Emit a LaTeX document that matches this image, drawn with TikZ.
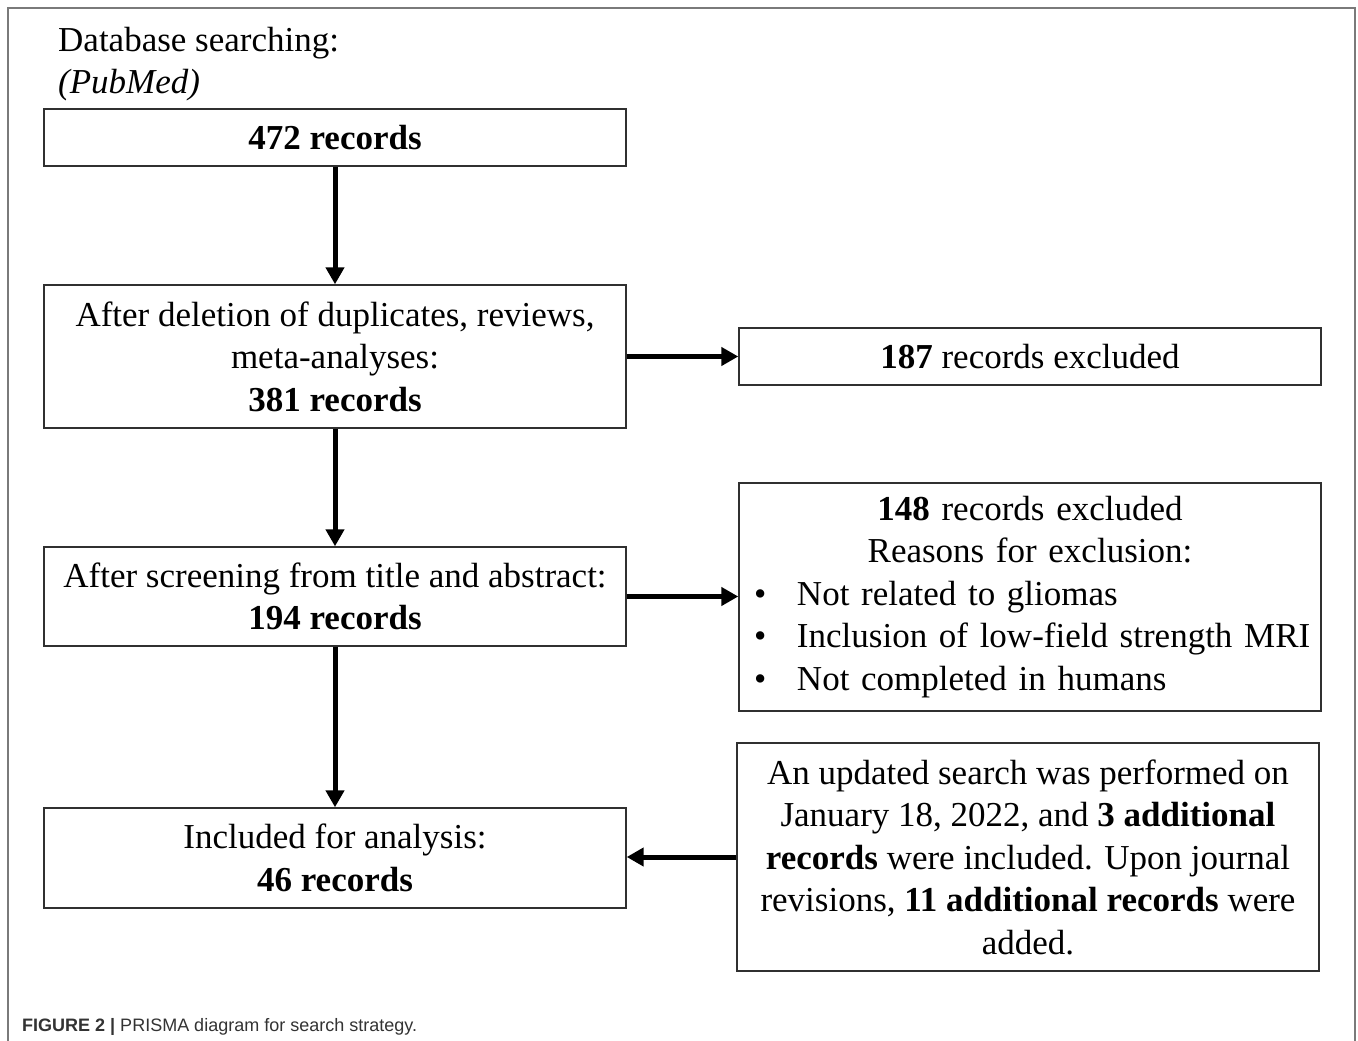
\documentclass[tikz,border=0pt]{standalone}
\usepackage{fontspec}
\setmainfont{Liberation Serif}
\newfontfamily\capfont{Liberation Sans}
\usetikzlibrary{arrows.meta}
\definecolor{framegray}{HTML}{7A7A7A}
\definecolor{boxgray}{HTML}{303030}
\definecolor{capgray}{HTML}{333333}
\begin{document}
\begin{tikzpicture}[x=1pt,y=-1pt,
  every node/.style={font=\fontsize{35}{42.5}\selectfont, inner sep=0pt},
  flowbox/.style={draw=boxgray, line width=1.4pt, rectangle, minimum width=582pt, align=center},
  flowarrow/.style={line width=5pt, -{Triangle[length=17pt,width=18pt]}}]
\useasboundingbox (0,0) rectangle (1358,1041);
\fill[white] (0,0) rectangle (1358,1041);
% outer frame
\draw[framegray, line width=2pt] (8,1050) -- (8,8.5) -- (1355,8.5) -- (1355,1050);
% title
\node[anchor=base west] (t1) at (58,52) {Database searching:};
\node[anchor=base west] (t2) at (58,93) {\itshape (PubMed)};
% left column
\node[flowbox, minimum height=57pt] (b1) at (335,137.5) {\textbf{472 records}};
\node[flowbox, minimum height=143pt] (b2) at (335,356.5) {After deletion of duplicates, reviews,\\ meta-analyses:\\ \textbf{381 records}};
\node[flowbox, minimum height=99pt] (b3) at (335,596.5) {After screening from title and abstract:\\ \textbf{194 records}};
\node[flowbox, minimum height=100pt] (b4) at (335,858) {Included for analysis:\\ \textbf{46 records}};
% right column
\node[flowbox, minimum height=57pt] (r1) at (1030,356.5) {\textbf{187} records excluded};
\node[flowbox, minimum height=228pt, text width=582pt, align=left] (r2) at (1030,597) {%
\makebox[582pt][c]{\textbf{148} records excluded}\\
\makebox[582pt][c]{Reasons for exclusion:}\\
\hspace*{15pt}\makebox[43pt][l]{•}Not related to gliomas\\
\hspace*{15pt}\makebox[43pt][l]{•}Inclusion of low-field strength MRI\\
\hspace*{15pt}\makebox[43pt][l]{•}Not completed in humans};
\node[flowbox, minimum height=228pt] (r3) at (1028,857) {An updated search was performed on\\ January 18, 2022, and \textbf{3 additional}\\ \textbf{records} were included. Upon journal\\ revisions, \textbf{11 additional records} were\\ added.};
% arrows
\draw[flowarrow] (b1.south) -- (b2.north);
\draw[flowarrow] (b2.south) -- (b3.north);
\draw[flowarrow] (b3.south) -- (b4.north);
\draw[flowarrow] (b2.east) -- (r1.west);
\draw[flowarrow] (b3.east) -- (b3.east -| r2.west);
\draw[flowarrow] (r3.west) -- (r3.west -| b4.east);
% caption
\node[anchor=base west, font=\capfont\fontsize{18}{21}\selectfont, text=capgray] (cap) at (22,1031) {\textbf{FIGURE 2 |} PRISMA diagram for search strategy.};
\end{tikzpicture}
\end{document}
